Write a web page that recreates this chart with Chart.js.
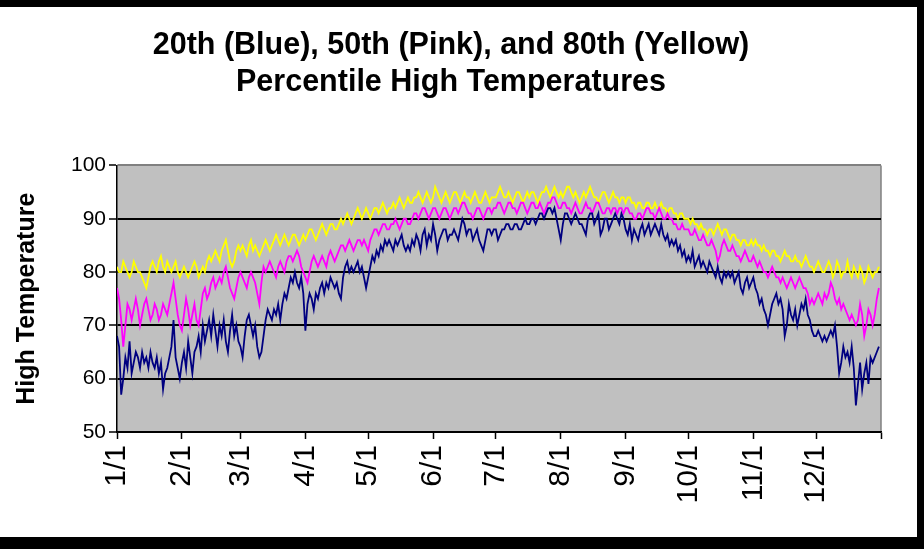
<!DOCTYPE html>
<html><head><meta charset="utf-8">
<script src="https://cdn.jsdelivr.net/npm/chart.js@4.4.1/dist/chart.umd.min.js"></script>
<style>html,body{margin:0;padding:0;background:#000;}canvas{display:block;}</style>
</head><body>
<canvas id="c" width="924" height="549"></canvas>
<script>
const titleLines = ['20th (Blue), 50th (Pink), and 80th (Yellow)', 'Percentile High Temperatures'];
const yAxisTitle = 'High Temperature';
const monthLabels = ['1/1','2/1','3/1','4/1','5/1','6/1','7/1','8/1','9/1','10/1','11/1','12/1',''];
const monthStartDays = [0,31,59,90,120,151,181,212,243,273,304,334,365];
const yTicks = [50,60,70,80,90,100];

// 20th percentile (blue), one value per day, Jan..Dec
const blue20 = [
 68,66,57,60,64,62,67,61,63,65,64,62,65,63,64,62,65,63,62,64,61,63,58,61,62,64,66,71,64,62,60,
 63,65,62,67,64,61,65,66,68,65,70,67,69,71,68,72,69,66,70,68,71,67,65,69,72,68,70,67,
 66,64,68,71,72,70,68,70,66,64,65,68,71,73,72,71,73,72,74,71,74,76,75,77,79,78,80,78,77,79,76,
 69,74,76,75,73,76,75,77,78,76,78,77,79,78,77,78,76,75,79,81,82,80,81,80,81,82,80,81,79,77,
 79,81,83,82,84,83,85,84,86,85,86,85,84,86,85,86,87,85,84,85,84,86,85,87,86,84,87,88,85,87,86,
 89,87,84,86,87,88,88,86,87,87,88,87,86,88,90,89,87,88,88,86,87,88,86,85,84,86,88,88,87,88,
 88,86,87,88,88,89,89,88,88,89,89,88,88,89,90,89,89,90,90,89,90,91,91,90,91,92,92,91,92,90,88,
 86,89,91,91,90,89,90,91,90,89,89,88,87,90,91,91,89,90,91,87,88,90,90,88,89,90,91,90,89,91,90,
 88,87,89,86,88,87,86,88,89,87,88,89,87,88,89,88,87,89,87,86,87,85,86,85,86,84,85,83,84,82,
 83,82,84,81,82,83,81,82,81,80,82,81,80,79,81,79,78,80,79,80,79,80,78,79,80,77,76,78,79,77,78,
 79,77,76,74,75,73,72,70,72,74,75,76,74,75,73,68,70,74,72,71,73,70,72,74,73,75,72,71,69,68,
 68,69,68,67,68,67,68,69,68,70,66,61,63,66,64,65,63,66,62,55,59,63,58,61,63,59,64,63,64,65,66
];
// 50th percentile (pink)
const pink50 = [
 77,75,71,66,70,74,73,71,73,75,73,70,72,74,75,73,71,72,74,73,71,72,74,73,72,74,76,78,75,72,70,
 69,72,75,73,70,72,74,71,70,73,76,77,75,76,78,79,77,78,79,78,80,81,79,77,76,75,77,79,
 80,79,78,77,79,80,79,78,76,74,78,81,80,81,82,81,80,79,81,82,81,80,82,83,83,82,83,84,83,81,80,
 79,78,80,82,83,82,81,82,83,82,81,83,84,83,82,83,84,85,85,84,85,86,85,84,85,86,86,85,86,85,
 84,86,87,88,88,87,88,89,89,88,88,89,89,90,89,88,89,90,90,89,89,90,91,91,90,91,92,92,91,90,91,
 92,92,91,90,91,92,92,91,90,91,92,92,91,92,93,93,92,91,91,90,91,92,92,91,90,91,92,92,91,92,
 92,93,93,92,91,92,93,93,92,92,91,92,93,93,92,91,92,93,93,92,92,93,92,91,92,93,93,94,94,93,92,
 92,93,93,92,92,91,92,93,92,91,91,92,93,92,92,91,92,93,93,92,91,91,92,92,91,92,92,91,92,92,91,
 92,92,91,91,90,90,91,91,90,91,92,92,91,91,90,91,92,91,90,90,91,90,90,89,89,88,88,89,88,88,
 88,87,87,88,87,86,86,87,86,85,85,86,85,84,82,83,85,86,85,84,84,85,84,83,83,82,83,84,83,82,82,
 83,82,81,82,81,80,80,79,80,81,80,79,79,78,79,78,77,78,79,78,77,78,79,78,77,77,76,74,75,74,
 75,76,75,74,76,75,76,78,77,75,74,75,73,74,73,72,71,72,71,70,71,74,72,68,70,73,72,70,72,75,77
];
// 80th percentile (yellow)
const yellow80 = [
 81,80,80,82,81,80,79,80,82,81,80,80,79,78,77,79,81,82,81,80,82,83,81,80,82,81,80,81,82,80,79,
 80,81,80,79,80,81,82,81,79,80,81,80,82,83,82,83,84,83,82,84,85,86,84,82,81,82,84,85,
 84,85,84,83,85,86,84,85,84,83,84,85,86,85,84,85,86,87,86,85,86,87,86,85,86,87,87,86,85,86,87,
 86,87,88,88,87,86,87,88,89,88,87,88,89,89,88,88,89,90,89,90,91,90,89,90,91,92,91,90,91,92,
 91,90,91,92,92,91,92,93,92,91,92,92,93,92,93,94,93,92,93,94,93,93,94,94,95,94,93,94,95,94,93,
 94,96,95,94,93,94,95,94,93,94,95,95,94,93,94,95,94,94,93,94,95,94,93,93,94,95,94,93,94,94,
 94,95,96,95,94,94,95,94,93,94,95,95,94,93,94,95,94,95,95,94,93,94,95,95,96,95,94,95,96,95,94,
 95,94,95,96,96,95,94,95,94,93,94,95,94,95,96,95,94,94,93,94,95,95,94,93,94,95,94,94,93,94,94,
 93,94,94,93,93,92,93,93,92,92,93,93,92,92,93,92,92,93,92,92,91,92,92,91,91,90,91,91,90,90,
 90,89,90,89,89,88,89,88,88,87,88,88,87,88,89,88,87,88,88,87,86,87,87,86,86,85,86,86,85,85,86,
 85,86,85,85,84,85,84,84,83,84,84,83,83,82,83,84,83,83,82,82,83,82,82,81,82,83,82,81,81,80,
 81,82,81,80,80,81,82,81,79,80,82,81,79,80,80,82,80,79,81,80,79,81,80,78,79,81,80,79,80,80,81
];

const F = '"Liberation Sans", Arial, sans-serif';
const toPts = arr => arr.map((v, i) => ({x: i, y: v}));

const framePlugin = {
  id: 'frame',
  beforeDraw(chart) {
    const {ctx, chartArea: a} = chart;
    ctx.save();
    ctx.fillStyle = '#000';
    ctx.fillRect(0, 0, chart.width, chart.height);
    ctx.fillStyle = '#fff';
    ctx.fillRect(0, 7, 917, 530);
    ctx.fillStyle = '#c0c0c0';
    ctx.fillRect(a.left, a.top, a.right - a.left, a.bottom - a.top);
    ctx.strokeStyle = '#808080';
    ctx.lineWidth = 1.5;
    ctx.beginPath();
    ctx.moveTo(a.right, a.top);
    ctx.lineTo(a.right, a.bottom);
    ctx.stroke();
    ctx.restore();
  }
};

new Chart(document.getElementById('c'), {
  type: 'line',
  data: {
    datasets: [
      {label: '20th', data: toPts(blue20), borderColor: '#000080', borderWidth: 1.8, pointRadius: 0, tension: 0, order: 1},
      {label: '50th', data: toPts(pink50), borderColor: '#ff00ff', borderWidth: 1.8, pointRadius: 0, tension: 0, order: 2},
      {label: '80th', data: toPts(yellow80), borderColor: '#ffff00', borderWidth: 1.8, pointRadius: 0, tension: 0, order: 3}
    ]
  },
  options: {
    responsive: false,
    animation: false,
    devicePixelRatio: 1,
    events: [],
    layout: {padding: {left: 21, right: 43, top: 0, bottom: 0}},
    plugins: {
      legend: {display: false},
      tooltip: {enabled: false},
      title: {
        display: true, text: titleLines, color: '#000',
        font: {family: F, size: 30.5, weight: 'bold', lineHeight: 1.22},
        padding: {top: 27, bottom: 64}
      }
    },
    scales: {
      x: {
        type: 'linear', min: 0, max: 365,
        afterBuildTicks: s => { s.ticks = monthStartDays.map(v => ({value: v})); },
        ticks: {autoSkip: false, minRotation: 90, maxRotation: 90, padding: 6, color: '#000',
          font: {family: F, size: 30}, callback: (v, i) => monthLabels[i]},
        grid: {drawOnChartArea: false, drawTicks: true, tickLength: 7, tickColor: '#000', tickWidth: 1.5},
        border: {color: '#000', width: 1.5},
        afterFit: s => { s.height = 117; }
      },
      y: {
        min: 50, max: 100,
        afterBuildTicks: s => { s.ticks = yTicks.map(v => ({value: v})); },
        ticks: {color: '#000', font: {family: F, size: 21}, padding: 3},
        grid: {color: c => (c.tick && c.tick.value === 100) ? '#808080' : '#000', lineWidth: 2,
          tickLength: 8, tickColor: '#000', tickWidth: 1.5},
        border: {color: '#000', width: 1.5},
        title: {display: true, text: yAxisTitle, color: '#000',
          font: {family: F, size: 25, weight: 'bold', lineHeight: 0.52}, padding: {top: 0, bottom: 0}},
        afterFit: s => { s.width = 96; }
      }
    }
  },
  plugins: [framePlugin]
});
</script>
</body></html>
